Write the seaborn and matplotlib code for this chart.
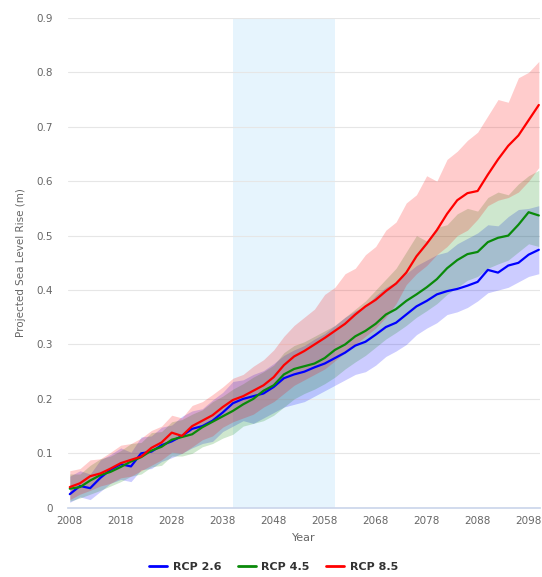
import numpy as np
import pandas as pd
import matplotlib
matplotlib.use("Agg")
import matplotlib.pyplot as plt
import seaborn as sns
from matplotlib.ticker import FuncFormatter
from matplotlib.lines import Line2D

# ---- data (every 2 years) ----
years = list(range(2008, 2101, 2))

rcp26_mean = [0.025, 0.040, 0.036, 0.055, 0.070, 0.080, 0.076, 0.100, 0.103, 0.115,
              0.122, 0.132, 0.145, 0.150, 0.160, 0.175, 0.192, 0.200, 0.205, 0.210,
              0.222, 0.238, 0.245, 0.250, 0.258, 0.265, 0.275, 0.285, 0.298, 0.305,
              0.318, 0.332, 0.340, 0.355, 0.370, 0.380, 0.392, 0.398, 0.402, 0.408,
              0.415, 0.437, 0.432, 0.445, 0.450, 0.465, 0.474]
rcp26_lo = [0.010, 0.020, 0.015, 0.030, 0.045, 0.052, 0.048, 0.070, 0.072, 0.085,
            0.092, 0.100, 0.110, 0.118, 0.122, 0.140, 0.150, 0.160, 0.155, 0.165,
            0.175, 0.185, 0.190, 0.195, 0.205, 0.215, 0.225, 0.235, 0.245, 0.250,
            0.262, 0.278, 0.288, 0.300, 0.318, 0.330, 0.340, 0.355, 0.360, 0.368,
            0.380, 0.395, 0.400, 0.405, 0.415, 0.425, 0.430]
rcp26_hi = [0.058, 0.068, 0.062, 0.088, 0.098, 0.110, 0.102, 0.130, 0.132, 0.148,
            0.152, 0.168, 0.178, 0.182, 0.198, 0.212, 0.232, 0.235, 0.245, 0.252,
            0.265, 0.280, 0.290, 0.298, 0.310, 0.320, 0.335, 0.350, 0.362, 0.370,
            0.390, 0.405, 0.415, 0.430, 0.445, 0.455, 0.465, 0.470, 0.485, 0.495,
            0.505, 0.520, 0.518, 0.535, 0.548, 0.550, 0.555]

rcp45_mean = [0.035, 0.038, 0.050, 0.060, 0.066, 0.075, 0.085, 0.093, 0.105, 0.112,
              0.125, 0.130, 0.135, 0.148, 0.158, 0.168, 0.178, 0.190, 0.200, 0.215,
              0.225, 0.245, 0.255, 0.260, 0.265, 0.275, 0.290, 0.300, 0.315, 0.325,
              0.338, 0.355, 0.365, 0.380, 0.392, 0.405, 0.420, 0.440, 0.455, 0.466,
              0.470, 0.488, 0.496, 0.500, 0.520, 0.543, 0.537]
rcp45_lo = [0.012, 0.018, 0.025, 0.032, 0.040, 0.048, 0.058, 0.062, 0.075, 0.078,
            0.095, 0.095, 0.100, 0.112, 0.118, 0.128, 0.135, 0.150, 0.155, 0.160,
            0.170, 0.185, 0.200, 0.210, 0.218, 0.228, 0.240, 0.255, 0.268, 0.280,
            0.295, 0.310, 0.322, 0.335, 0.350, 0.362, 0.375, 0.392, 0.405, 0.418,
            0.425, 0.440, 0.448, 0.455, 0.470, 0.485, 0.480]
rcp45_hi = [0.062, 0.062, 0.078, 0.090, 0.095, 0.105, 0.118, 0.120, 0.138, 0.140,
            0.158, 0.162, 0.172, 0.180, 0.195, 0.205, 0.218, 0.228, 0.240, 0.250,
            0.262, 0.285, 0.298, 0.305, 0.315, 0.325, 0.335, 0.350, 0.365, 0.380,
            0.400, 0.420, 0.440, 0.470, 0.500, 0.490, 0.515, 0.520, 0.540, 0.550,
            0.545, 0.570, 0.580, 0.575, 0.595, 0.610, 0.620]

rcp85_mean = [0.038, 0.045, 0.058, 0.063, 0.072, 0.082, 0.088, 0.094, 0.110, 0.120,
              0.138, 0.132, 0.150, 0.160, 0.170, 0.185, 0.198, 0.205, 0.215, 0.225,
              0.240, 0.262, 0.278, 0.288, 0.300, 0.312, 0.325, 0.338, 0.355, 0.370,
              0.382, 0.398, 0.412, 0.432, 0.462, 0.485, 0.510, 0.540, 0.565, 0.578,
              0.582, 0.612, 0.640, 0.665, 0.684, 0.712, 0.740]
rcp85_lo = [0.015, 0.025, 0.032, 0.040, 0.045, 0.055, 0.058, 0.068, 0.078, 0.088,
            0.102, 0.100, 0.112, 0.125, 0.132, 0.148, 0.158, 0.165, 0.172, 0.185,
            0.195, 0.210, 0.225, 0.235, 0.245, 0.255, 0.270, 0.285, 0.300, 0.315,
            0.330, 0.350, 0.375, 0.410, 0.430, 0.445, 0.465, 0.480, 0.500, 0.510,
            0.530, 0.555, 0.565, 0.570, 0.580, 0.600, 0.625]
rcp85_hi = [0.068, 0.072, 0.088, 0.090, 0.102, 0.115, 0.118, 0.128, 0.142, 0.150,
            0.170, 0.165, 0.188, 0.195, 0.208, 0.222, 0.238, 0.245, 0.260, 0.272,
            0.290, 0.315, 0.335, 0.350, 0.365, 0.392, 0.405, 0.430, 0.440, 0.465,
            0.480, 0.510, 0.525, 0.560, 0.575, 0.610, 0.600, 0.640, 0.655, 0.675,
            0.690, 0.720, 0.750, 0.745, 0.790, 0.800, 0.820]

scenarios = ["RCP 2.6", "RCP 4.5", "RCP 8.5"]
colors = {"RCP 2.6": "#0000ff", "RCP 4.5": "#0a8a0a", "RCP 8.5": "#ff0000"}
highlight = (2040, 2060)
xticks = list(range(2008, 2099, 10))

means = {"RCP 2.6": rcp26_mean, "RCP 4.5": rcp45_mean, "RCP 8.5": rcp85_mean}
lows = {"RCP 2.6": rcp26_lo, "RCP 4.5": rcp45_lo, "RCP 8.5": rcp85_lo}
highs = {"RCP 2.6": rcp26_hi, "RCP 4.5": rcp45_hi, "RCP 8.5": rcp85_hi}

df = pd.concat(
    [pd.DataFrame({"Year": years, "rise": means[s], "scenario": s}) for s in scenarios],
    ignore_index=True,
)

sns.set_theme(style="white")
plt.rcParams["font.family"] = ["DejaVu Sans"]

fig = plt.figure(figsize=(5.42, 5.77), dpi=100)
ax = fig.add_axes([0.125, 0.12, 0.871, 0.849])

# highlighted period and uncertainty bands
ax.axvspan(*highlight, color="#e6f4fd", zorder=0, lw=0)
for s in scenarios:
    ax.fill_between(years, lows[s], highs[s], color=colors[s], alpha=0.2, lw=0, zorder=1)

sns.lineplot(data=df, x="Year", y="rise", hue="scenario", palette=colors,
             linewidth=1.6, ax=ax, legend=False, zorder=3)

ax.set_xlim(2007.6, 2100.2)
ax.set_ylim(0, 0.9)
ax.set_xticks(xticks)
ax.set_yticks(np.arange(0, 0.91, 0.1))
ax.yaxis.set_major_formatter(FuncFormatter(lambda v, _: f"{v:g}"))
ax.yaxis.grid(True, color="#e6e6e6", lw=0.8)
ax.xaxis.grid(False)
for side in ["top", "right", "left"]:
    ax.spines[side].set_visible(False)
ax.spines["bottom"].set_color("#ccd6eb")
ax.tick_params(axis="both", colors="#666666", labelsize=7.5, length=0)
ax.tick_params(axis="x", pad=6)
ax.tick_params(axis="y", pad=11)
ax.set_xlabel("Year", color="#666666", fontsize=8, labelpad=5)
ax.set_ylabel("Projected Sea Level Rise (m)", color="#666666", fontsize=7.5, labelpad=7)

handles = [Line2D([0], [0], color=colors[s], lw=2) for s in scenarios]
leg = fig.legend(handles, scenarios, loc="center", bbox_to_anchor=(0.505, 0.018), ncol=3,
                 frameon=False, fontsize=8, handlelength=1.6, columnspacing=1.5, handletextpad=0.5)
for t in leg.get_texts():
    t.set_color("#333333")
    t.set_fontweight("bold")

fig.savefig("out.png", dpi=100, facecolor="white")
